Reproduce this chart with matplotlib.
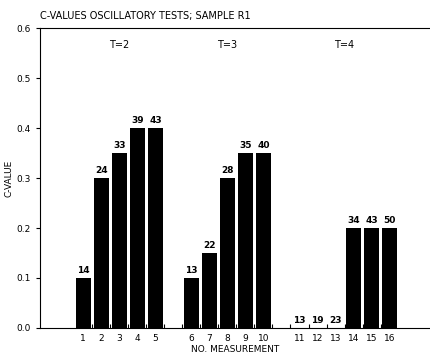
import matplotlib
matplotlib.use("Agg")
import matplotlib.pyplot as plt

# oscillatory tests, sample R1
measurements = list(range(1, 17))
slots = [1, 2, 3, 4, 5, 7, 8, 9, 10, 11, 13, 14, 15, 16, 17, 18]
c_values = [0.10, 0.30, 0.35, 0.40, 0.40,
            0.10, 0.15, 0.30, 0.35, 0.35,
            0.0, 0.0, 0.0, 0.20, 0.20, 0.20]
bar_labels = ["14", "24", "33", "39", "43",
              "13", "22", "28", "35", "40",
              "13", "19", "23", "34", "43", "50"]
groups = ["T=2", "T=3", "T=4"]
group_pos = [3, 9, 15.5]

plt.rcParams['font.family'] = ['DejaVu Sans']
fig = plt.figure(figsize=(4.31, 3.6), dpi=100)
ax = fig.add_axes([0.093, 0.089, 0.907, 0.833])

ax.bar(slots, c_values, width=0.83, color='black')
for x, v, lab in zip(slots, c_values, bar_labels):
    ax.text(x, v + 0.006, lab, ha='center', va='bottom', fontsize=6.5, fontweight='bold')

for x, g in zip(group_pos, groups):
    ax.text(x, 0.566, g, ha='center', va='center', fontsize=7)

ax.set_xlim(-1.4, 20.3)
ax.set_ylim(0, 0.6)
ax.set_yticks([0.0, 0.1, 0.2, 0.3, 0.4, 0.5, 0.6])
ax.set_yticklabels(["0.0", "0.1", "0.2", "0.3", "0.4", "0.5", "0.6"], fontsize=6.5)
ax.set_xticks([s + 0.5 for s in range(1, 18)])
ax.set_xticklabels([])
ax.tick_params(axis='x', direction='in', length=3, width=0.8)
ax.tick_params(axis='y', direction='out', length=3, width=0.8)
for x, m in zip(slots, measurements):
    ax.text(x, -0.012, str(m), ha='center', va='top', fontsize=6.5)

ax.spines['right'].set_visible(False)
for s in ['left', 'bottom', 'top']:
    ax.spines[s].set_linewidth(0.8)

ax.set_ylabel("C-VALUE", fontsize=6.5, labelpad=2)
ax.text(9.4, -0.035, "NO. MEASUREMENT", ha='center', va='top', fontsize=6.5)
fig.text(0.093, 0.955, "C-VALUES OSCILLATORY TESTS; SAMPLE R1", ha='left', va='center', fontsize=7)

fig.savefig("out.png", dpi=100)
